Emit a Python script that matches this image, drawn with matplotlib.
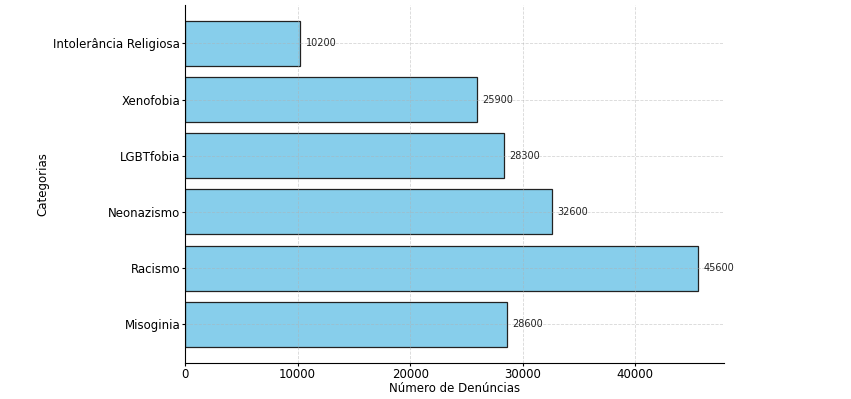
import matplotlib
matplotlib.use("Agg")
import matplotlib.pyplot as plt

# ── データ ──────────────────────────────────────────
categorias = ["Misoginia", "Racismo", "Neonazismo", "LGBTfobia",
              "Xenofobia", "Intolerância Religiosa"]
denuncias = [28600, 45600, 32600, 28300, 25900, 10200]

fig = plt.figure(figsize=(8.51, 3.99), dpi=100)
ax = fig.add_axes([0.2174, 0.0902, 0.6334, 0.898])

bars = ax.barh(categorias, denuncias, color="skyblue", edgecolor="#222222",
               linewidth=0.9)
for bar, v in zip(bars, denuncias):
    ax.text(v + 500, bar.get_y() + bar.get_height() / 2, str(v),
            va="center", ha="left", fontsize=7, color="#222222")

ax.set_xlabel("Número de Denúncias", fontsize=8.5, labelpad=0.5)
ax.set_ylabel("Categorias", fontsize=8.5, labelpad=3)
ax.tick_params(labelsize=8.5, length=2.5, pad=1)
ax.grid(linestyle="--", linewidth=0.6, alpha=0.5)
ax.spines["top"].set_visible(False)
ax.spines["right"].set_visible(False)

fig.savefig("out.png", dpi=100)
